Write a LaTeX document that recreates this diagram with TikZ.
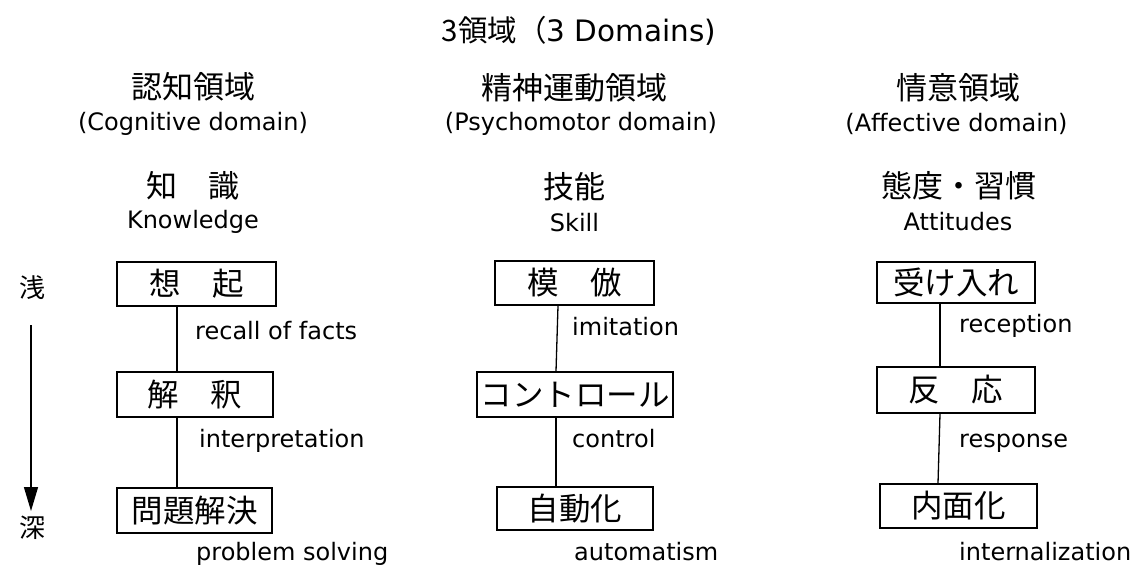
\documentclass[tikz,border=0pt]{standalone}
\usepackage{fontspec}
\setmainfont{DejaVu Sans}
\newfontfamily\jp{Noto Sans CJK JP}
\usetikzlibrary{arrows.meta}
\begin{document}
\begin{tikzpicture}[x=1pt,y=-1pt,
  title/.style={inner sep=0pt,font=\fontsize{29.5}{32}\selectfont},
  jhead/.style={inner sep=0pt,font=\jp\fontsize{31}{34}\selectfont},
  ehead/.style={inner sep=0pt,anchor=base,font=\fontsize{24}{26}\selectfont},
  level/.style={draw,line width=1.4pt,inner sep=0pt,font=\jp\fontsize{31.5}{34}\selectfont},
  lab/.style={inner sep=0pt,anchor=base west,font=\fontsize{24}{26}\selectfont},
  side/.style={inner sep=0pt,font=\jp\fontsize{26}{28}\selectfont},
  link/.style={line width=1.3pt}]
\useasboundingbox (0,0) rectangle (1134,566);

% title
\node[title] (t) at (579,31) {{\jp 3領域（}3 Domains)};

% column 1
\node[jhead] (h1) at (193,87) {認知領域};
\node[ehead] (e1) at (193,130) {(Cognitive domain)};
\node[jhead] (k1) at (193,186) {知　識};
\node[ehead] (s1) at (193,228) {Knowledge};

% column 2
\node[jhead] (h2) at (574.5,88) {精神運動領域};
\node[ehead] (e2) at (581,130) {(Psychomotor domain)};
\node[jhead] (k2) at (574.5,187) {技能};
\node[ehead] (s2) at (574.5,231) {Skill};

% column 3
\node[jhead] (h3) at (958.5,88) {情意領域};
\node[ehead] (e3) at (956.5,131) {(Affective domain)};
\node[jhead] (k3) at (958.5,186) {態度・習慣};
\node[ehead] (s3) at (958,230) {Attitudes};

% boxes column 1
\node[level,minimum width=159pt,minimum height=44pt] (a1) at (196.5,284) {想　起};
\node[level,minimum width=156pt,minimum height=45pt] (a2) at (195,394.5) {解　釈};
\node[level,minimum width=155pt,minimum height=45pt] (a3) at (194.5,510.5) {問題解決};
% boxes column 2
\node[level,minimum width=159pt,minimum height=44pt] (b1) at (574.5,283) {模　倣};
\node[level,minimum width=196pt,minimum height=45pt] (b2) at (575,394.5) {コントロール};
\node[level,minimum width=156pt,minimum height=43pt] (b3) at (575,508.5) {自動化};
% boxes column 3
\node[level,minimum width=158pt,minimum height=41pt] (c1) at (956,282.5) {受け入れ};
\node[level,minimum width=158pt,minimum height=46pt] (c2) at (956,390) {反　応};
\node[level,minimum width=157pt,minimum height=44pt] (c3) at (958.5,506) {内面化};

% connectors
\coordinate (x1) at (177,0);
\coordinate (x2a) at (558,0);
\coordinate (x2b) at (556,0);
\coordinate (x3a) at (940,0);
\coordinate (x3b) at (938,0);
\draw[link] (a1.south -| x1) -- (a2.north -| x1);
\draw[link] (a2.south -| x1) -- (a3.north -| x1);
\draw[link] (b1.south -| x2a) -- (b2.north -| x2b);
\draw[link] (b2.south -| x2b) -- (b3.north -| x2b);
\draw[link] (c1.south -| x3a) -- (c2.north -| x3a);
\draw[link] (c2.south -| x3a) -- (c3.north -| x3b);

% labels
\node[lab] (l1) at (195,339) {recall of facts};
\node[lab] (l2) at (199,447) {interpretation};
\node[lab] (l3) at (196,560) {problem solving};
\node[lab] (m1) at (572,335) {imitation};
\node[lab] (m2) at (572,447) {control};
\node[lab] (m3) at (574,560) {automatism};
\node[lab] (n1) at (959,332) {reception};
\node[lab] (n2) at (959,447) {response};
\node[lab] (n3) at (959,560) {internalization};

% depth arrow
\node[side] (shallow) at (32,288) {浅};
\node[side] (deep) at (32,528) {深};
\coordinate (arT) at (31,325);
\coordinate (arB) at (31,511);
\draw[line width=1.3pt,-{Triangle[length=24pt,width=14pt]}] (arT) -- (arB);
\end{tikzpicture}
\end{document}
